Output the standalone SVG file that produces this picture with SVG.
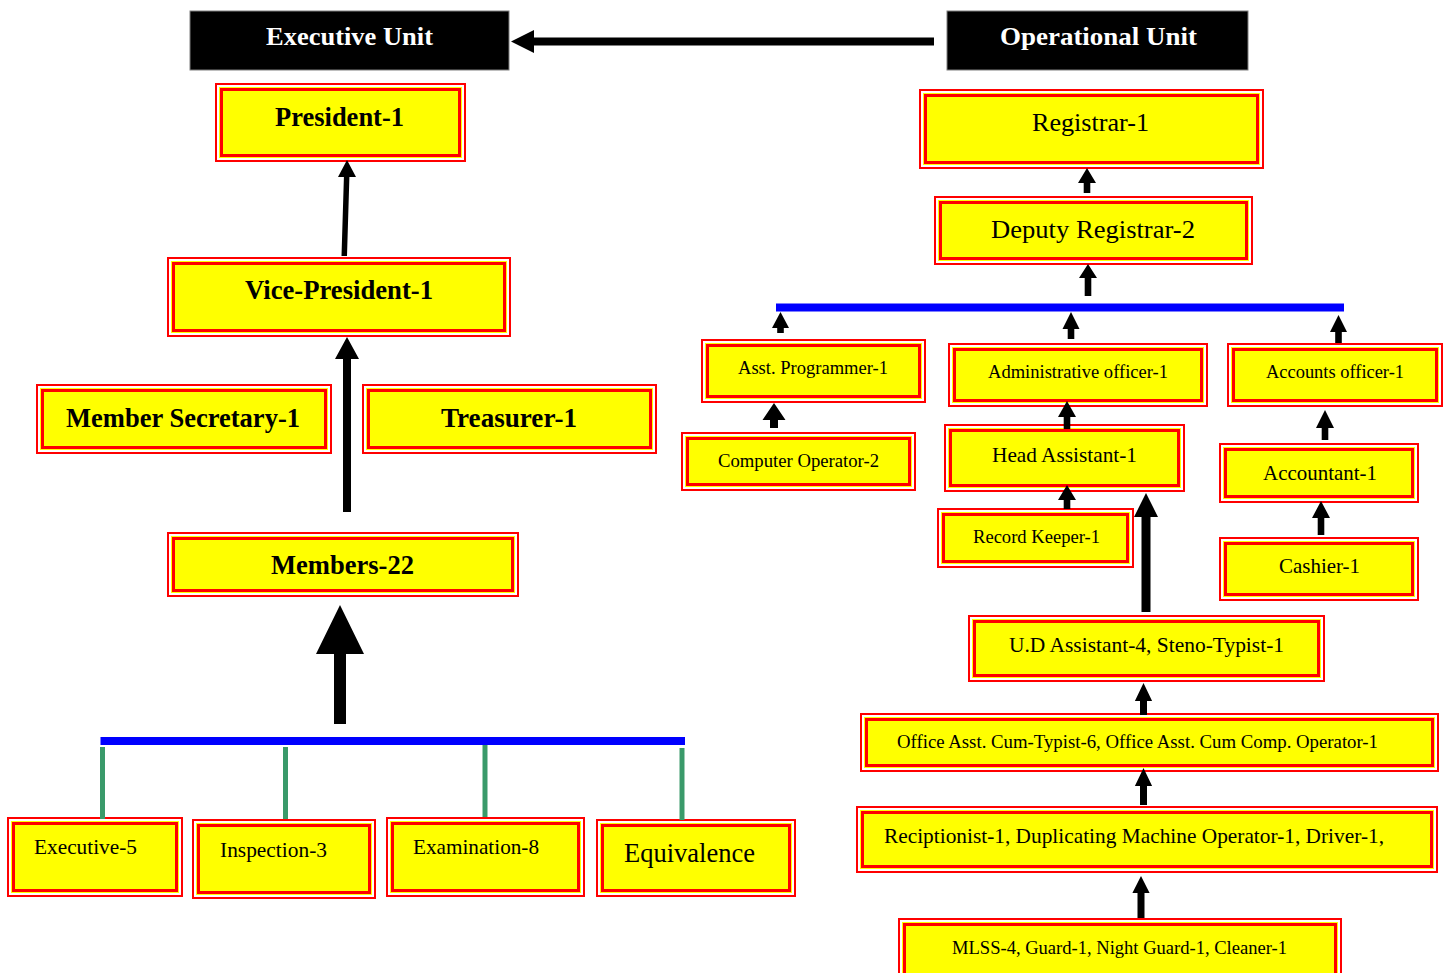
<svg xmlns="http://www.w3.org/2000/svg" width="1451" height="973" viewBox="0 0 1451 973">
<style>
.o{fill:#ffff00;stroke:#ff0000;stroke-width:2}
.w{fill:none;stroke:#ffffff;stroke-width:2}
.i{fill:#ffff00;stroke:#ff0000;stroke-width:3}
.hdr{fill:#000000;stroke:#7f7f7f;stroke-width:1}
text{font-family:"Liberation Serif","Times New Roman",serif;fill:#000000}
.b{font-weight:bold}
.wt{fill:#ffffff;font-weight:bold}
.arr{fill:#000000}
.blue{fill:#0000ff}
.grn{stroke:#3a9a6a;stroke-width:5;fill:none}
</style>
<rect width="1451" height="973" fill="#ffffff"/>

<g id="executive-unit">
<rect class="hdr" x="190" y="11" width="319" height="59"/>
<text class="wt" x="266" y="45" font-size="26" textLength="167" lengthAdjust="spacingAndGlyphs">Executive Unit</text>
</g>
<g id="operational-unit">
<rect class="hdr" x="947" y="11" width="301" height="59"/>
<text class="wt" x="1000" y="45" font-size="26" textLength="197" lengthAdjust="spacingAndGlyphs">Operational Unit</text>
</g>

<g id="president">
<rect class="o" x="216" y="84" width="249" height="77"/><rect class="w" x="218" y="86" width="245" height="73"/><rect class="i" x="221.5" y="89.5" width="238" height="66"/>
<text class="b" x="275" y="126" font-size="27" textLength="129" lengthAdjust="spacingAndGlyphs">President-1</text>
</g>
<g id="vice-president">
<rect class="o" x="168" y="258" width="342" height="78"/><rect class="w" x="170" y="260" width="338" height="74"/><rect class="i" x="173.5" y="263.5" width="331" height="67"/>
<text class="b" x="245" y="299" font-size="27" textLength="188" lengthAdjust="spacingAndGlyphs">Vice-President-1</text>
</g>
<g id="member-secretary">
<rect class="o" x="37" y="385" width="294" height="68"/><rect class="w" x="39" y="387" width="290" height="64"/><rect class="i" x="42.5" y="390.5" width="283" height="57"/>
<text class="b" x="66" y="427" font-size="27" textLength="234" lengthAdjust="spacingAndGlyphs">Member Secretary-1</text>
</g>
<g id="treasurer">
<rect class="o" x="363" y="385" width="293" height="68"/><rect class="w" x="365" y="387" width="289" height="64"/><rect class="i" x="368.5" y="390.5" width="282" height="57"/>
<text class="b" x="441" y="427" font-size="27" textLength="136" lengthAdjust="spacingAndGlyphs">Treasurer-1</text>
</g>
<g id="members">
<rect class="o" x="168" y="533" width="350" height="63"/><rect class="w" x="170" y="535" width="346" height="59"/><rect class="i" x="173.5" y="538.5" width="339" height="52"/>
<text class="b" x="271" y="574" font-size="27" textLength="143" lengthAdjust="spacingAndGlyphs">Members-22</text>
</g>
<g id="executive-5">
<rect class="o" x="8" y="818" width="174" height="78"/><rect class="w" x="10" y="820" width="170" height="74"/><rect class="i" x="13.5" y="823.5" width="163" height="67"/>
<text x="34" y="854" font-size="22" textLength="103" lengthAdjust="spacingAndGlyphs">Executive-5</text>
</g>
<g id="inspection-3">
<rect class="o" x="193" y="820" width="182" height="78"/><rect class="w" x="195" y="822" width="178" height="74"/><rect class="i" x="198.5" y="825.5" width="171" height="67"/>
<text x="220" y="857" font-size="22" textLength="107" lengthAdjust="spacingAndGlyphs">Inspection-3</text>
</g>
<g id="examination-8">
<rect class="o" x="387" y="818" width="197" height="78"/><rect class="w" x="389" y="820" width="193" height="74"/><rect class="i" x="392.5" y="823.5" width="186" height="67"/>
<text x="413" y="854" font-size="22" textLength="126" lengthAdjust="spacingAndGlyphs">Examination-8</text>
</g>
<g id="equivalence">
<rect class="o" x="597" y="820" width="198" height="76"/><rect class="w" x="599" y="822" width="194" height="72"/><rect class="i" x="602.5" y="825.5" width="187" height="65"/>
<text x="624" y="862" font-size="27" textLength="131" lengthAdjust="spacingAndGlyphs">Equivalence</text>
</g>

<g id="registrar">
<rect class="o" x="920" y="90" width="343" height="78"/><rect class="w" x="922" y="92" width="339" height="74"/><rect class="i" x="925.5" y="95.5" width="332" height="67"/>
<text x="1032" y="131" font-size="26" textLength="117" lengthAdjust="spacingAndGlyphs">Registrar-1</text>
</g>
<g id="deputy-registrar">
<rect class="o" x="935" y="197" width="317" height="67"/><rect class="w" x="937" y="199" width="313" height="63"/><rect class="i" x="940.5" y="202.5" width="306" height="56"/>
<text x="991" y="238" font-size="26" textLength="204" lengthAdjust="spacingAndGlyphs">Deputy Registrar-2</text>
</g>
<g id="asst-programmer">
<rect class="o" x="702" y="340" width="223" height="62"/><rect class="w" x="704" y="342" width="219" height="58"/><rect class="i" x="707.5" y="345.5" width="212" height="51"/>
<text x="738" y="374" font-size="19" textLength="150" lengthAdjust="spacingAndGlyphs">Asst. Programmer-1</text>
</g>
<g id="computer-operator">
<rect class="o" x="682" y="433" width="233" height="57"/><rect class="w" x="684" y="435" width="229" height="53"/><rect class="i" x="687.5" y="438.5" width="222" height="46"/>
<text x="718" y="467" font-size="19" textLength="161" lengthAdjust="spacingAndGlyphs">Computer Operator-2</text>
</g>
<g id="administrative-officer">
<rect class="o" x="949" y="344" width="258" height="62"/><rect class="w" x="951" y="346" width="254" height="58"/><rect class="i" x="954.5" y="349.5" width="247" height="51"/>
<text x="988" y="378" font-size="19" textLength="180" lengthAdjust="spacingAndGlyphs">Administrative officer-1</text>
</g>
<g id="head-assistant">
<rect class="o" x="945" y="425" width="239" height="66"/><rect class="w" x="947" y="427" width="235" height="62"/><rect class="i" x="950.5" y="430.5" width="228" height="55"/>
<text x="992" y="462" font-size="21" textLength="145" lengthAdjust="spacingAndGlyphs">Head Assistant-1</text>
</g>
<g id="record-keeper">
<rect class="o" x="938" y="509" width="195" height="58"/><rect class="w" x="940" y="511" width="191" height="54"/><rect class="i" x="943.5" y="514.5" width="184" height="47"/>
<text x="973" y="543" font-size="19" textLength="127" lengthAdjust="spacingAndGlyphs">Record Keeper-1</text>
</g>
<g id="accounts-officer">
<rect class="o" x="1228" y="344" width="214" height="62"/><rect class="w" x="1230" y="346" width="210" height="58"/><rect class="i" x="1233.5" y="349.5" width="203" height="51"/>
<text x="1266" y="378" font-size="19" textLength="138" lengthAdjust="spacingAndGlyphs">Accounts officer-1</text>
</g>
<g id="accountant">
<rect class="o" x="1220" y="444" width="198" height="58"/><rect class="w" x="1222" y="446" width="194" height="54"/><rect class="i" x="1225.5" y="449.5" width="187" height="47"/>
<text x="1263" y="480" font-size="21" textLength="114" lengthAdjust="spacingAndGlyphs">Accountant-1</text>
</g>
<g id="cashier">
<rect class="o" x="1220" y="538" width="198" height="62"/><rect class="w" x="1222" y="540" width="194" height="58"/><rect class="i" x="1225.5" y="543.5" width="187" height="51"/>
<text x="1279" y="573" font-size="21" textLength="81" lengthAdjust="spacingAndGlyphs">Cashier-1</text>
</g>
<g id="ud-assistant">
<rect class="o" x="969" y="616" width="355" height="65"/><rect class="w" x="971" y="618" width="351" height="61"/><rect class="i" x="974.5" y="621.5" width="344" height="54"/>
<text x="1009" y="652" font-size="22" textLength="275" lengthAdjust="spacingAndGlyphs">U.D Assistant-4, Steno-Typist-1</text>
</g>
<g id="office-asst">
<rect class="o" x="861" y="714" width="577" height="57"/><rect class="w" x="863" y="716" width="573" height="53"/><rect class="i" x="866.5" y="719.5" width="566" height="46"/>
<text x="897" y="748" font-size="19" textLength="481" lengthAdjust="spacingAndGlyphs">Office Asst. Cum-Typist-6, Office Asst. Cum Comp. Operator-1</text>
</g>
<g id="receptionist">
<rect class="o" x="857" y="807" width="580" height="65"/><rect class="w" x="859" y="809" width="576" height="61"/><rect class="i" x="862.5" y="812.5" width="569" height="54"/>
<text x="884" y="843" font-size="22" textLength="500" lengthAdjust="spacingAndGlyphs">Reciptionist-1, Duplicating Machine Operator-1, Driver-1,</text>
</g>
<g id="mlss">
<rect class="o" x="899" y="919" width="442" height="65"/><rect class="w" x="901" y="921" width="438" height="61"/><rect class="i" x="904.5" y="924.5" width="431" height="54"/>
<text x="952" y="954" font-size="19" textLength="335" lengthAdjust="spacingAndGlyphs">MLSS-4, Guard-1, Night Guard-1, Cleaner-1</text>
</g>

<g id="connectors">
<path class="arr" d="M511,41.5 L534,30 L534,37.5 L934,37.5 L934,45.5 L534,45.5 L534,53 Z"/>
<path class="arr" d="M347,160 L356,177 L349.4,177 L347,256 L341.5,256 L343.9,177 L338,177 Z"/>
<path class="arr" d="M347,337 L359,359 L351,359 L351,512 L343,512 L343,359 L335,359 Z"/>
<path class="arr" d="M340,605 L364,654 L346,654 L346,724 L334,724 L334,654 L316,654 Z"/>
<rect class="blue" x="100.5" y="737" width="584.5" height="8"/>
<line class="grn" x1="102.5" y1="747" x2="102.5" y2="819"/>
<line class="grn" x1="285.5" y1="747" x2="285.5" y2="819"/>
<line class="grn" x1="485" y1="745" x2="485" y2="817"/>
<line class="grn" x1="682" y1="748" x2="682" y2="820"/>

<path class="arr" d="M1087,168 L1096,183 L1090.3,183 L1090.3,193 L1083.7,193 L1083.7,183 L1078,183 Z"/>
<path class="arr" d="M1088,264 L1097,278 L1091.3,278 L1091.3,296 L1084.7,296 L1084.7,278 L1079,278 Z"/>
<rect class="blue" x="776" y="303.5" width="568" height="8"/>
<path class="arr" d="M780.5,312 L789,328 L783.8,328 L783.8,333 L777.2,333 L777.2,328 L772,328 Z"/>
<path class="arr" d="M1071,312 L1079.5,329 L1074.3,329 L1074.3,339 L1067.7,339 L1067.7,329 L1062.5,329 Z"/>
<path class="arr" d="M1338.5,315 L1347,332 L1341.8,332 L1341.8,343 L1335.2,343 L1335.2,332 L1330,332 Z"/>
<path class="arr" d="M774,403 L785.5,420 L778,420 L778,428 L770,428 L770,420 L762.5,420 Z"/>
<path class="arr" d="M1067,401 L1076,417 L1070.3,417 L1070.3,429 L1063.7,429 L1063.7,417 L1058,417 Z"/>
<path class="arr" d="M1067,485 L1076,500 L1070.3,500 L1070.3,509 L1063.7,509 L1063.7,500 L1058,500 Z"/>
<path class="arr" d="M1146,493 L1158,517 L1150.5,517 L1150.5,612 L1141.5,612 L1141.5,517 L1134,517 Z"/>
<path class="arr" d="M1325,410 L1334,428 L1328.3,428 L1328.3,440 L1321.7,440 L1321.7,428 L1316,428 Z"/>
<path class="arr" d="M1321,501 L1330,518 L1324.3,518 L1324.3,535 L1317.7,535 L1317.7,518 L1312,518 Z"/>
<path class="arr" d="M1143.5,683 L1152.1,701 L1147,701 L1147,715 L1140,715 L1140,701 L1134.9,701 Z"/>
<path class="arr" d="M1143.5,768 L1152.1,786 L1147,786 L1147,805 L1140,805 L1140,786 L1134.9,786 Z"/>
<path class="arr" d="M1141,876 L1149.6,893 L1144.5,893 L1144.5,918 L1137.5,918 L1137.5,893 L1132.4,893 Z"/>
</g>
</svg>
